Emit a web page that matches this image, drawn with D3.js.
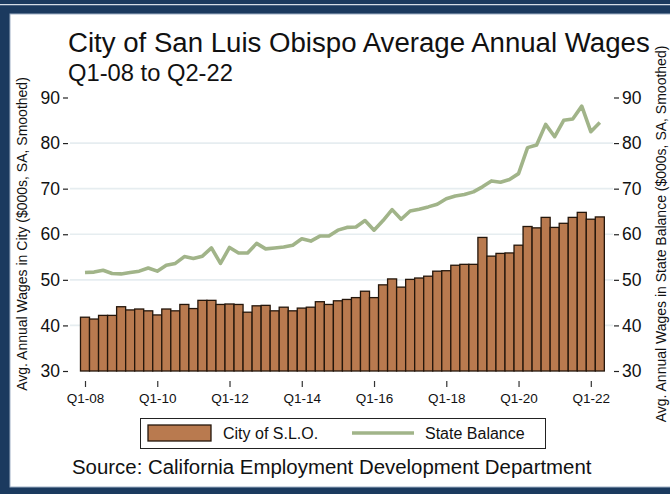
<!DOCTYPE html>
<html><head><meta charset="utf-8">
<script src="https://cdn.jsdelivr.net/npm/d3@7"></script>
<style>html,body{margin:0;padding:0;background:#fff;}svg{display:block;font-family:"Liberation Sans",Arial,Helvetica,sans-serif;}</style>
</head><body>
<svg id="chart" width="670" height="494"></svg>
<script>
const quarters = ["Q1-08","Q2-08","Q3-08","Q4-08","Q1-09","Q2-09","Q3-09","Q4-09","Q1-10","Q2-10","Q3-10","Q4-10","Q1-11","Q2-11","Q3-11","Q4-11","Q1-12","Q2-12","Q3-12","Q4-12","Q1-13","Q2-13","Q3-13","Q4-13","Q1-14","Q2-14","Q3-14","Q4-14","Q1-15","Q2-15","Q3-15","Q4-15","Q1-16","Q2-16","Q3-16","Q4-16","Q1-17","Q2-17","Q3-17","Q4-17","Q1-18","Q2-18","Q3-18","Q4-18","Q1-19","Q2-19","Q3-19","Q4-19","Q1-20","Q2-20","Q3-20","Q4-20","Q1-21","Q2-21","Q3-21","Q4-21","Q1-22","Q2-22"];
const cityWages = [41.8,41.4,42.2,42.2,44.1,43.4,43.6,43.2,42.3,43.6,43.2,44.6,43.7,45.5,45.5,44.6,44.7,44.6,42.9,44.3,44.4,43.2,44.0,43.2,43.8,44.0,45.2,44.6,45.4,45.7,46.1,47.5,46.1,48.9,50.2,48.4,50.1,50.4,50.8,51.9,52.0,53.2,53.4,53.4,59.3,55.2,55.8,55.9,57.6,61.7,61.4,63.7,61.5,62.4,63.7,64.8,63.3,63.8];
const stateWages = [51.6,51.7,52.1,51.4,51.3,51.6,51.9,52.6,51.9,53.2,53.6,55.1,54.7,55.2,57.0,53.6,57.1,55.9,55.9,58.0,56.8,57.0,57.2,57.6,59.0,58.5,59.6,59.6,60.9,61.5,61.6,63.0,60.9,63.0,65.4,63.3,65.1,65.5,66.0,66.6,67.8,68.4,68.7,69.3,70.4,71.7,71.4,72.0,73.3,79.0,79.6,84.1,81.4,85.0,85.3,88.1,82.5,84.5];
const xTickLabels = ["Q1-08","Q1-10","Q1-12","Q1-14","Q1-16","Q1-18","Q1-20","Q1-22"];
const yTicks = [30,40,50,60,70,80,90];
const gridTicks = [40,50,60,70,80];

const svg = d3.select("#chart");
const W = 670, H = 494;
const navy = "#1b3a5f";
const barFill = "#b97a4f";
const lineCol = "#a1b489";

// frame
svg.append("rect").attr("x",0).attr("y",0).attr("width",W).attr("height",H).attr("fill",navy);
svg.append("line").attr("x1",0).attr("x2",W).attr("y1",4.6).attr("y2",4.6).attr("stroke","#d4dce6").attr("stroke-width",1.2);
svg.append("rect").attr("x",10).attr("y",14).attr("width",W).attr("height",473).attr("fill","#fff").attr("stroke","#9fb0c6").attr("stroke-width",1);

const x = d3.scaleLinear().domain([0,56]).range([85,590.8]);
const y = d3.scaleLinear().domain([30,90]).range([371,97.5]);
const bw = x(1)-x(0);

// gridlines
svg.append("g").selectAll("line").data(gridTicks).join("line")
  .attr("x1",70).attr("x2",613).attr("y1",d=>y(d)).attr("y2",d=>y(d))
  .attr("stroke","#e6edf0").attr("stroke-width",1.6);

// axes
const yl = d3.axisLeft(y).tickValues(yTicks).tickSize(5).tickPadding(3);
const gl = svg.append("g").attr("transform","translate(68,0)").call(yl);
const yr = d3.axisRight(y).tickValues(yTicks).tickSize(5).tickPadding(3);
const gr = svg.append("g").attr("transform","translate(614,0)").call(yr);
[gl,gr].forEach(g=>{
  g.select(".domain").remove();
  g.selectAll(".tick line").attr("stroke","#222").attr("stroke-width",1.2);
  g.selectAll(".tick text").attr("font-size",17.5).attr("fill","#111").attr("font-family","Liberation Sans, Arial, sans-serif");
});

const xa = d3.axisBottom(x).tickValues(xTickLabels.map(l=>quarters.indexOf(l)))
  .tickFormat(i=>quarters[i]).tickSize(6).tickPadding(6);
const gx = svg.append("g").attr("transform","translate(0,381)").call(xa);
gx.select(".domain").remove();
gx.selectAll(".tick line").attr("stroke","#333").attr("stroke-width",1.2);
gx.selectAll(".tick text").attr("font-size",13.5).attr("fill","#111").attr("font-family","Liberation Sans, Arial, sans-serif");

// bars
svg.append("g").selectAll("rect").data(cityWages).join("rect")
  .attr("x",(d,i)=>x(i)-bw/2).attr("width",bw)
  .attr("y",d=>y(d)).attr("height",d=>y(30)-y(d))
  .attr("fill",barFill).attr("stroke","#24160b").attr("stroke-width",1.3);

// line
svg.append("path").datum(stateWages)
  .attr("d",d3.line().x((d,i)=>x(i)).y(d=>y(d)))
  .attr("fill","none").attr("stroke",lineCol).attr("stroke-width",3.6).attr("stroke-linejoin","round");

function fit(sel, target){
  const w = sel.node().getComputedTextLength();
  const fs = parseFloat(sel.attr("font-size"));
  sel.attr("font-size", fs*target/w);
}

// titles
const t1 = svg.append("text").attr("x",68).attr("y",52).attr("font-size",26).attr("fill","#111")
  .text("City of San Luis Obispo Average Annual Wages");
fit(t1, 582);
const t2 = svg.append("text").attr("x",68).attr("y",81).attr("font-size",20).attr("fill","#111")
  .text("Q1-08 to Q2-22");
fit(t2, 165);

// axis titles
svg.append("text").attr("transform","translate(27,234) rotate(-90)").attr("text-anchor","middle")
  .attr("font-size",14).attr("fill","#111").text("Avg. Annual Wages in City ($000s, SA, Smoothed)");
svg.append("text").attr("transform","translate(666,234) rotate(-90)").attr("text-anchor","middle")
  .attr("font-size",14).attr("fill","#111").text("Avg. Annual Wages in State Balance ($000s, SA, Smoothed)");

// legend
const lg = svg.append("g");
lg.append("rect").attr("x",140.5).attr("y",418.5).attr("width",405).attr("height",30).attr("fill","#fff").attr("stroke","#222").attr("stroke-width",1);
lg.append("rect").attr("x",148).attr("y",425).attr("width",63).attr("height",16).attr("fill",barFill).attr("stroke","#24160b").attr("stroke-width",1.3);
lg.append("text").attr("x",223).attr("y",439).attr("font-size",16).attr("fill","#111").text("City of S.L.O.");
lg.append("line").attr("x1",352).attr("x2",414).attr("y1",433).attr("y2",433).attr("stroke",lineCol).attr("stroke-width",3.6);
lg.append("text").attr("x",425).attr("y",439).attr("font-size",16).attr("fill","#111").text("State Balance");

const src = svg.append("text").attr("x",72).attr("y",474).attr("font-size",19).attr("fill","#111")
  .text("Source: California Employment Development Department");
fit(src, 520);
</script>
</body></html>
